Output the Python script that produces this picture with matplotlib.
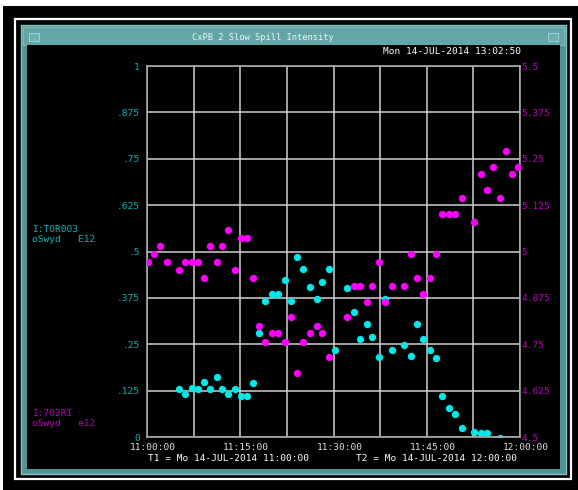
import numpy as np
import matplotlib.pyplot as plt
from matplotlib.patches import Rectangle
from matplotlib.transforms import ScaledTranslation

# minutes after 11:00:00
tor_time = [5.15, 6.11, 7.19, 8.16, 9.17, 10.14, 11.21, 12.11, 13.08, 14.16, 15.07, 16.13,
            17.10, 18.06, 19.03, 20.16, 21.12, 22.20, 23.12, 24.18, 25.14, 26.22, 27.30,
            28.20, 29.28, 30.24, 32.22, 33.30, 34.26, 35.34, 36.24, 37.32, 38.29, 39.36,
            41.34, 42.42, 43.38, 44.45, 45.52, 46.49, 47.50, 48.58, 49.54, 50.62, 52.60,
            53.68, 54.74, 56.78]
tor_vals = [0.129, 0.115, 0.133, 0.129, 0.149, 0.129, 0.163, 0.129, 0.115, 0.129, 0.111, 0.111,
            0.145, 0.281, 0.367, 0.385, 0.385, 0.423, 0.367, 0.486, 0.452, 0.405, 0.371,
            0.419, 0.452, 0.2345, 0.401, 0.338, 0.264, 0.304, 0.269, 0.215, 0.371, 0.2345,
            0.248, 0.218, 0.305, 0.264, 0.2345, 0.214, 0.1105, 0.077, 0.062, 0.025, 0.014,
            0.010, 0.010, -0.003]

ri_time = [0.21, 1.13, 2.09, 3.17, 5.15, 6.11, 7.19, 8.16, 9.17, 10.14, 11.21, 12.11, 13.08,
           14.16, 15.07, 16.13, 17.10, 18.06, 19.03, 20.16, 21.12, 22.20, 23.12, 24.18, 25.14,
           26.22, 27.30, 28.20, 29.28, 32.22, 33.30, 34.26, 35.34, 36.24, 37.32, 38.29, 39.36,
           41.34, 42.42, 43.38, 44.45, 45.52, 46.49, 47.50, 48.58, 49.54, 50.62, 52.60, 53.68,
           54.74, 55.71, 56.78, 57.75, 58.76, 59.73]
ri_vals = [4.972, 4.993, 5.016, 4.972, 4.950, 4.972, 4.972, 4.972, 4.929, 5.016, 4.972, 5.016,
           5.058, 4.950, 5.036, 5.036, 4.929, 4.799, 4.757, 4.780, 4.780, 4.757, 4.823, 4.672,
           4.757, 4.780, 4.799, 4.780, 4.715, 4.823, 4.908, 4.908, 4.865, 4.908, 4.972, 4.865,
           4.907, 4.907, 4.992, 4.929, 4.885, 4.929, 4.992, 5.101, 5.101, 5.101, 5.143, 5.079,
           5.209, 5.166, 5.229, 5.143, 5.272, 5.209, 5.229]

left_ticks = [0, 0.125, 0.25, 0.375, 0.5, 0.625, 0.75, 0.875, 1]
left_labels = ['0', '.125', '.25', '.375', '.5', '.625', '.75', '.875', '1']
right_ticks = [4.5, 4.625, 4.75, 4.875, 5, 5.125, 5.25, 5.375, 5.5]
right_labels = ['4.5', '4.625', '4.75', '4.875', '5', '5.125', '5.25', '5.375', '5.5']
x_ticks = [0, 7.5, 15, 22.5, 30, 37.5, 45, 52.5, 60]
x_labels = ['11:00:00', '', '11:15:00', '', '11:30:00', '', '11:45:00', '', '12:00:00']

W, H = 578, 490
CYAN = '#00e8e8'
MAGENTA = '#ff00ff'
MONO = 'DejaVu Sans Mono'

fig = plt.figure(figsize=(W / 100, H / 100), dpi=100)
fig.patch.set_facecolor('white')


def box(x0, y0, x1, y1, **kw):
    # pixel coords, origin top-left; kept under the axes
    fig.patches.append(Rectangle((x0 / W, 1 - y1 / H), (x1 - x0) / W, (y1 - y0) / H,
                                 transform=fig.transFigure, zorder=-5, **kw))


def ftext(x, y, s, **kw):
    fig.text(x / W, 1 - y / H, s, family=MONO, **kw)


# window decoration
box(3, 6, 578, 490, facecolor='black', edgecolor='none')
box(15, 19, 571, 479, facecolor='none', edgecolor='white', lw=1.6)
box(21, 25, 566, 474, facecolor='#4f9494', edgecolor='#8cc4c4', lw=1.0)
box(23, 27, 564, 45, facecolor='#62a6a6', edgecolor='#7fbcbc', lw=0.8)
box(29, 33, 39, 41, facecolor='#6fb0b0', edgecolor='#a8d8d8', lw=0.6)
box(548, 33, 558, 41, facecolor='#6fb0b0', edgecolor='#a8d8d8', lw=0.6)
box(27, 45, 560, 469, facecolor='black', edgecolor='none')

ftext(263, 38, 'CxPB 2 Slow Spill Intensity', color='#eef6f6', fontsize=6.3,
      ha='center', va='center')
ftext(521, 51, 'Mon 14-JUL-2014 13:02:50', color='white', fontsize=6.8,
      ha='right', va='center')

ftext(32, 229, 'I:TOR003', color='#00b8b8', fontsize=6.8, va='center')
ftext(32, 239, 'oSwyd   E12', color='#00b8b8', fontsize=6.8, va='center')
ftext(32, 413, 'I:702RI', color='#b800b8', fontsize=6.8, va='center')
ftext(32, 423, 'oSwyd   e12', color='#b800b8', fontsize=6.8, va='center')

ftext(229, 458, 'T1 = Mo 14-JUL-2014 11:00:00', color='white', fontsize=6.8,
      ha='center', va='center')
ftext(437, 458, 'T2 = Mo 14-JUL-2014 12:00:00', color='white', fontsize=6.8,
      ha='center', va='center')

# plot area
ax = fig.add_axes([147 / W, 1 - 437 / H, (520 - 147) / W, (437 - 66) / H])
ax.set_facecolor('black')
ax.set_xlim(0, 60)
ax.set_ylim(0, 1)
ax.set_xticks(x_ticks)
ax.set_xticklabels(x_labels, family=MONO, fontsize=6.8, color='#e0e0e0')
ax.set_yticks(left_ticks)
ax.set_yticklabels(left_labels, family=MONO, fontsize=6.8, color='#00b8b8')
ax.tick_params(length=0)
ax.tick_params(axis='y', pad=5)
ax.tick_params(axis='x', pad=4)
ax.grid(color='#d0d0d0', lw=1.1)
ax.set_axisbelow(True)
for s in ax.spines.values():
    s.set_color('#a8a8a8')
    s.set_linewidth(1.2)

for lab in ax.get_xticklabels():
    lab.set_transform(lab.get_transform() + ScaledTranslation(6 / 100, 0, fig.dpi_scale_trans))

ax.plot(tor_time, tor_vals, 'o', color=CYAN, ms=5.3, mec='none')

ax2 = ax.twinx()
ax2.set_ylim(4.5, 5.5)
ax2.set_yticks(right_ticks)
ax2.set_yticklabels(right_labels, family=MONO, fontsize=6.8, color='#c000c0')
ax2.tick_params(length=0, pad=1)
for s in ax2.spines.values():
    s.set_visible(False)
ax2.plot(ri_time, ri_vals, 'o', color=MAGENTA, ms=5.3, mec='none')

fig.savefig('out.png', dpi=100)
